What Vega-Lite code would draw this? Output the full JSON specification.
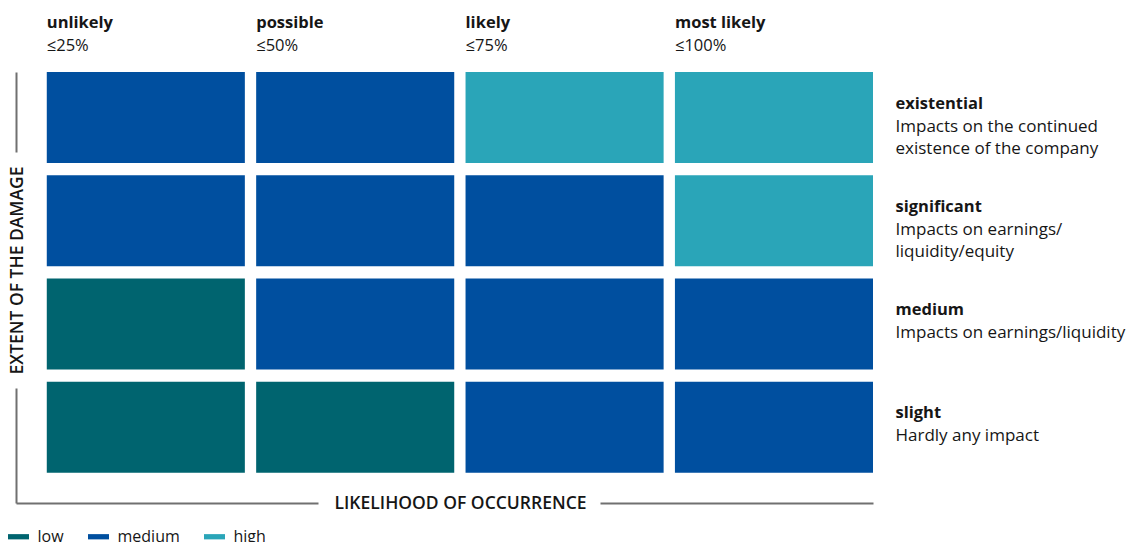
{
  "$schema": "https://vega.github.io/schema/vega-lite/v6.json",
  "width": 857,
  "height": 431,
  "autosize": {"type": "none"},
  "padding": {"left": 16, "top": 72, "right": 253, "bottom": 39},
  "background": "white",
  "config": {
    "view": {"stroke": null},
    "font": "Open Sans",
    "axis": {
      "labelFont": "Open Sans", "titleFont": "Open Sans", "grid": false, "ticks": false, "tickSize": 0,
      "domain": false, "labelColor": "#161616", "titleColor": "#161616", "labelOverlap": false, "labelLimit": 400, "labelBound": false
    }
  },
  "data": {
    "values": [
      {"likelihood": "unlikely", "pct": "≤25%", "damage": "existential", "desc": "Impacts on the continued\nexistence of the company", "risk": "medium"},
      {"likelihood": "possible", "pct": "≤50%", "damage": "existential", "desc": "Impacts on the continued\nexistence of the company", "risk": "medium"},
      {"likelihood": "likely", "pct": "≤75%", "damage": "existential", "desc": "Impacts on the continued\nexistence of the company", "risk": "high"},
      {"likelihood": "most likely", "pct": "≤100%", "damage": "existential", "desc": "Impacts on the continued\nexistence of the company", "risk": "high"},
      {"likelihood": "unlikely", "pct": "≤25%", "damage": "significant", "desc": "Impacts on earnings/\nliquidity/equity", "risk": "medium"},
      {"likelihood": "possible", "pct": "≤50%", "damage": "significant", "desc": "Impacts on earnings/\nliquidity/equity", "risk": "medium"},
      {"likelihood": "likely", "pct": "≤75%", "damage": "significant", "desc": "Impacts on earnings/\nliquidity/equity", "risk": "medium"},
      {"likelihood": "most likely", "pct": "≤100%", "damage": "significant", "desc": "Impacts on earnings/\nliquidity/equity", "risk": "high"},
      {"likelihood": "unlikely", "pct": "≤25%", "damage": "medium", "desc": "Impacts on earnings/liquidity", "risk": "low"},
      {"likelihood": "possible", "pct": "≤50%", "damage": "medium", "desc": "Impacts on earnings/liquidity", "risk": "medium"},
      {"likelihood": "likely", "pct": "≤75%", "damage": "medium", "desc": "Impacts on earnings/liquidity", "risk": "medium"},
      {"likelihood": "most likely", "pct": "≤100%", "damage": "medium", "desc": "Impacts on earnings/liquidity", "risk": "medium"},
      {"likelihood": "unlikely", "pct": "≤25%", "damage": "slight", "desc": "Hardly any impact", "risk": "low"},
      {"likelihood": "possible", "pct": "≤50%", "damage": "slight", "desc": "Hardly any impact", "risk": "low"},
      {"likelihood": "likely", "pct": "≤75%", "damage": "slight", "desc": "Hardly any impact", "risk": "medium"},
      {"likelihood": "most likely", "pct": "≤100%", "damage": "slight", "desc": "Hardly any impact", "risk": "medium"}
    ]
  },
  "layer": [
    {
      "mark": {"type": "rect"},
      "encoding": {
        "x": {
          "field": "likelihood", "type": "nominal",
          "sort": ["unlikely", "possible", "likely", "most likely"],
          "scale": {"type": "band", "paddingInner": 0.054, "paddingOuter": 0.0735, "align": 1},
          "axis": {"orient": "top", "title": null, "labelAlign": "left", "labelBaseline": "middle", "labelOffset": -99,
                   "labelPadding": 50, "labelFontSize": 16.5, "labelFontWeight": "bold", "labelAngle": 0}
        },
        "y": {
          "field": "damage", "type": "nominal",
          "sort": ["existential", "significant", "medium", "slight"],
          "scale": {"type": "band", "paddingInner": 0.118, "paddingOuter": 0.147, "align": 0},
          "axis": {"orient": "left", "labels": false, "domain": true, "domainColor": "#707070", "domainWidth": 2,
                   "domainDash": [80, 236, 600], "title": "EXTENT OF THE DAMAGE", "titleX": 1, "titleY": 198,
                   "titleAngle": -90, "titleAlign": "center", "titleBaseline": "middle", "titleFontSize": 17.5, "titleFontWeight": 600}
        },
        "color": {
          "field": "risk", "type": "nominal",
          "scale": {"domain": ["low", "medium", "high"], "range": ["#00646f", "#004f9f", "#2aa5b8"]},
          "legend": {"orient": "none", "legendX": -8, "legendY": 454, "direction": "horizontal", "title": null,
                     "symbolType": "M-1,-0.25H1V0.25H-1Z", "symbolSize": 441, "symbolStrokeWidth": 0, "symbolOpacity": 1,
                     "labelFontSize": 16, "labelOffset": 8.5, "columnPadding": 24, "labelFont": "Open Sans", "labelColor": "#161616", "padding": 0}
        }
      }
    },
    {
      "mark": {"type": "rect", "opacity": 0},
      "encoding": {
        "x": {
          "field": "pct", "type": "nominal",
          "sort": ["≤25%", "≤50%", "≤75%", "≤100%"],
          "scale": {"type": "band", "paddingInner": 0.054, "paddingOuter": 0.0735, "align": 1},
          "axis": {"orient": "top", "title": null, "labelAlign": "left", "labelBaseline": "middle", "labelOffset": -99,
                   "labelPadding": 27, "labelFontSize": 16.5, "labelAngle": 0}
        },
        "y": {
          "field": "damage", "type": "nominal",
          "sort": ["existential", "significant", "medium", "slight"],
          "scale": {"type": "band", "paddingInner": 0.118, "paddingOuter": 0.147, "align": 0},
          "axis": {"orient": "right", "title": null, "labelAlign": "left", "labelBaseline": "middle", "labelPadding": 22,
                   "labelOffset": -14, "labelFontSize": 16.5, "labelFontWeight": "bold"}
        }
      }
    },
    {
      "mark": {"type": "rect", "opacity": 0},
      "encoding": {
        "x": {
          "field": "likelihood", "type": "nominal",
          "sort": ["unlikely", "possible", "likely", "most likely"],
          "scale": {"type": "band", "paddingInner": 0.054, "paddingOuter": 0.0735, "align": 1},
          "axis": {"orient": "bottom", "labels": false, "domain": true, "domainColor": "#707070", "domainWidth": 2,
                   "domainDash": [302, 282, 600], "title": "LIKELIHOOD OF OCCURRENCE", "titleX": 444, "titleY": 0,
                   "titleAngle": 0, "titleAlign": "center", "titleBaseline": "middle", "titleFontSize": 17.5, "titleFontWeight": 600}
        },
        "y": {
          "field": "desc", "type": "nominal",
          "sort": ["Impacts on the continued\nexistence of the company", "Impacts on earnings/\nliquidity/equity", "Impacts on earnings/liquidity", "Hardly any impact"],
          "scale": {"type": "band", "paddingInner": 0.118, "paddingOuter": 0.147, "align": 0},
          "axis": {"orient": "right", "title": null, "labelAlign": "left", "labelBaseline": "middle", "labelPadding": 22,
                   "labelOffset": 9, "labelFontSize": 17, "labelLineHeight": 22, "labelExpr": "split(datum.value, '\\n')"}
        }
      }
    }
  ],
  "resolve": {"scale": {"x": "independent", "y": "independent"}, "axis": {"x": "independent", "y": "independent"}}
}
